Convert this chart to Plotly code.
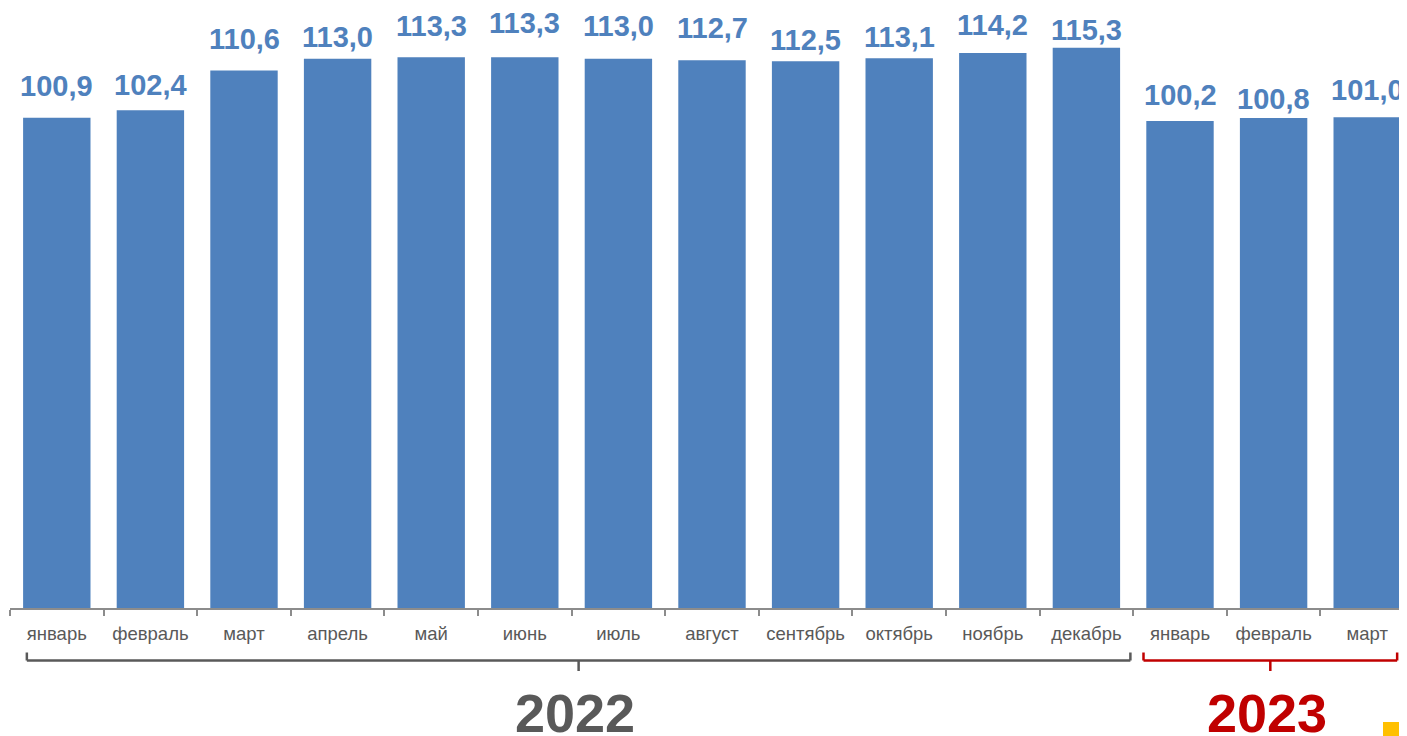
import plotly.graph_objects as go

months = ["январь", "февраль", "март", "апрель", "май", "июнь", "июль", "август",
          "сентябрь", "октябрь", "ноябрь", "декабрь", "январь", "февраль", "март"]
years = ["2022"] * 12 + ["2023"] * 3
values = [100.9, 102.4, 110.6, 113.0, 113.3, 113.3, 113.0, 112.7,
          112.5, 113.1, 114.2, 115.3, 100.2, 100.8, 101.0]

# gap (px) between each value label's baseline and its bar top (label placement style)
label_gap = [23, 16, 22, 13, 22, 25, 24, 23, 12, 12, 19, 9, 17, 10, 18]

OFF = 8  # page body margin
W, H = 1407 - OFF, 736 - OFF
BASE = 608 - OFF  # baseline row inside figure
MT, MB, ML, MR = 0, H - BASE, 10 - OFF, 0
PLOT_H = H - MT - MB
STEP = 93.6
PX_PER_UNIT = 4.86

BAR = "#4F81BD"
GREY = "#595959"
RED = "#C00000"
FONT = "Liberation Sans, Arial, sans-serif"
LABEL_SIZE = 29

ids = [f"{m}|{y}|{i}" for i, (m, y) in enumerate(zip(months, years))]


def py(win_y):
    """convert a window pixel row to paper coordinate"""
    return (H - MB - (win_y - OFF)) / PLOT_H


fig = go.Figure()
fig.add_trace(go.Bar(x=ids, y=values, marker=dict(color=BAR, line=dict(width=0)),
                     width=0.72, hoverinfo="skip"))

annotations = []
for i, v, g in zip(ids, values, label_gap):
    annotations.append(dict(x=i, y=v, xref="x", yref="y", text=f"{v:.1f}".replace(".", ","),
                            showarrow=False, yanchor="bottom", yshift=g - 9,
                            font=dict(family=FONT, size=LABEL_SIZE, color=BAR, weight="bold")))

# year groups
groups = [("2022", GREY, 0, 11), ("2023", RED, 12, 14)]
shapes = []
for label, col, a, b in groups:
    if label == "2022":
        x0, x1 = a - 0.32, b + 0.47
    else:
        x0, x1 = a - 0.39, b + 0.32
    xc = (x0 + x1) / 2
    yl, yh, yd = py(660.5), py(652.5), py(671)
    ln = dict(color=col, width=2.5)
    shapes += [
        dict(type="line", xref="x", yref="paper", x0=x0, x1=x1, y0=yl, y1=yl, line=ln),
        dict(type="line", xref="x", yref="paper", x0=x0, x1=x0, y0=yl, y1=yh, line=ln),
        dict(type="line", xref="x", yref="paper", x0=x1, x1=x1, y0=yl, y1=yh, line=ln),
        dict(type="line", xref="x", yref="paper", x0=xc, x1=xc, y0=yl, y1=yd, line=ln),
    ]
    annotations.append(dict(x=xc - 0.04, y=py(713), xref="x", yref="paper", text=label,
                            showarrow=False, yanchor="middle", xanchor="center",
                            font=dict(family=FONT, size=54, color=col, weight="bold")))

# small yellow corner mark
shapes.append(dict(type="rect", xref="paper", yref="paper",
                   x0=(1383 - OFF - ML) / (W - ML - MR), x1=1.02,
                   y0=py(722), y1=py(745), fillcolor="#FFC000",
                   line=dict(width=0), layer="above"))

fig.update_layout(
    width=W, height=H,
    margin=dict(l=ML, r=MR, t=MT, b=MB),
    paper_bgcolor="white", plot_bgcolor="white",
    showlegend=False,
    annotations=annotations, shapes=shapes,
    font=dict(family=FONT),
)
fig.update_xaxes(type="category", tickmode="array", tickvals=ids, ticktext=months,
                 tickson="boundaries", ticks="outside", ticklen=6, tickwidth=2,
                 tickcolor="#8C8C8C", showline=True, linecolor="#8C8C8C", linewidth=2,
                 range=[-0.5, -0.5 + (W - ML - MR) / STEP],
                 ticklabelstandoff=8,
                 tickfont=dict(family=FONT, size=18.5, color=GREY),
                 showgrid=False, zeroline=False, fixedrange=True)
fig.update_yaxes(visible=False, range=[0, PLOT_H / PX_PER_UNIT], showgrid=False, zeroline=False)

fig.write_html("out.html")
